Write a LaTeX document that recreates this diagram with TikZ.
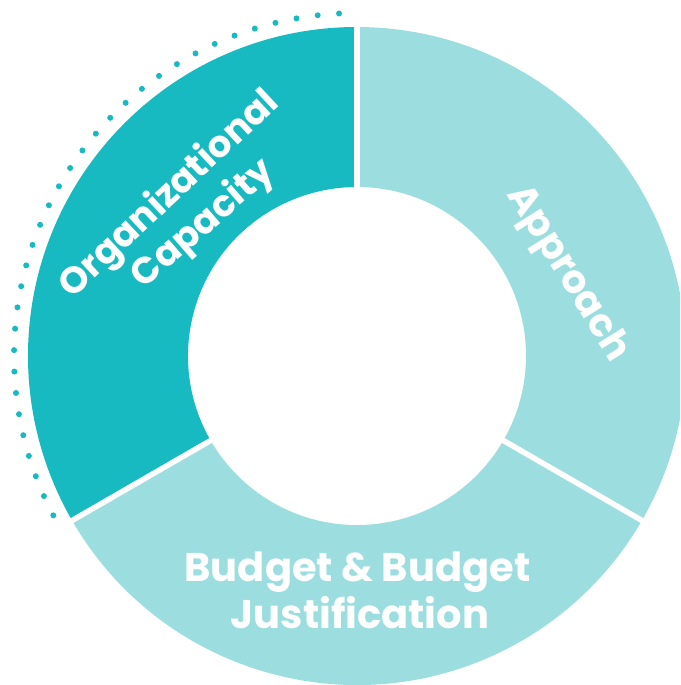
\documentclass[tikz,border=0pt]{standalone}
\usepackage{fontspec}
\setmainfont{Poppins}
\definecolor{darkteal}{HTML}{17BAC1}
\definecolor{lightteal}{HTML}{9CDEE0}
\begin{document}
\begin{tikzpicture}[x=1pt,y=1pt,
  seglabel/.style={text=white,font=\fontsize{40}{47}\selectfont\bfseries,inner sep=0pt,anchor=base},
  smalllabel/.style={seglabel,font=\fontsize{37}{44}\selectfont\bfseries},
  gapline/.style={white,line width=5.5pt}]
\clip (-357,-329) rectangle (323,356);
\useasboundingbox (-357,-329) rectangle (323,356);
\coordinate (c) at (0,0);
% segments
\fill[darkteal] (90:169) -- (90:329) arc[start angle=90,end angle=210,radius=329] -- (210:169) arc[start angle=210,end angle=90,radius=169] -- cycle;
\fill[lightteal] (-30:169) -- (-30:329) arc[start angle=-30,end angle=90,radius=329] -- (90:169) arc[start angle=90,end angle=-30,radius=169] -- cycle;
\fill[lightteal] (210:169) -- (210:329) arc[start angle=210,end angle=330,radius=329] -- (330:169) arc[start angle=330,end angle=210,radius=169] -- cycle;
% gaps
\coordinate (g1a) at (90:160); \coordinate (g1b) at (90:340);
\coordinate (g2a) at (210:160); \coordinate (g2b) at (210:340);
\coordinate (g3a) at (330:160); \coordinate (g3b) at (330:340);
\draw[gapline] (g1a) -- (g1b);
\draw[gapline] (g2a) -- (g2b);
\draw[gapline] (g3a) -- (g3b);
% dotted arc
\foreach \i in {0,...,32}{
  \fill[darkteal] ({93+\i*3.584}:343) circle (3);
}
% labels
\node[smalllabel,rotate=43] (org) at (-180.5,154) {Organizational};
\node[smalllabel,rotate=41] (cap) at (-147,124) {Capacity};
\node[seglabel,font=\fontsize{39}{46}\selectfont\bfseries,rotate=-58] (app) at (202,77) {Approach};
\node[seglabel] (bud1) at (0.5,-225) {Budget \& Budget};
\node[seglabel] (bud2) at (3,-272) {Justification};
\end{tikzpicture}
\end{document}
